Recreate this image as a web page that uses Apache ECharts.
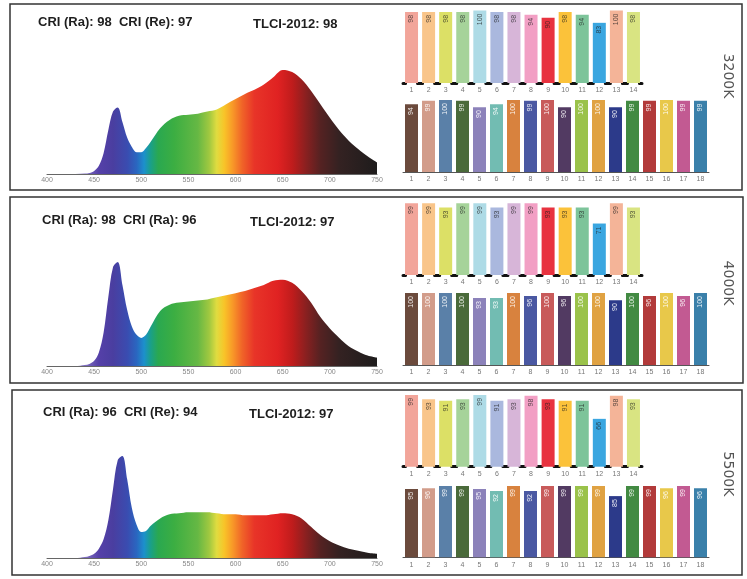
<!DOCTYPE html>
<html>
<head>
<meta charset="utf-8">
<script src="https://cdn.jsdelivr.net/npm/echarts@6/dist/echarts.min.js"></script>
<style>
html,body{margin:0;padding:0;background:#fff;}
#c{width:747px;height:579px;}
</style>
</head>
<body>
<div id="c"></div>
<script>
// ---------- DATA ----------
const wavelengths = [400,430,440,445,450,455,460,465,470,475,480,485,490,495,500,505,510,520,530,540,550,560,570,580,590,600,610,620,630,640,650,660,670,680,690,700,710,720,730,740,750];
const spec3200 = [0,0,0.5,1,3,8,20,42,60,64,50,35,26,21,21,25,31,44,52,56,57,58,60,62,67,72,77,81,86,93,100,98,91,80,67,54,42,32,24,17,11];
const spec4000 = [0,0,1,2,5,13,32,66,95,100,78,54,38,30,27,30,38,53,59,61,62,63,64,66,68,70,72,75,78,82,83,80,72,61,47,36,27,19,14,10,8];
const spec5500 = [0,0,1,2,4,9,18,36,66,94,98,76,48,32,25,26,31,38,42,43,44,44,44,43,42,42,41,41,41,42,43,42,38,30,22,16,12,9,7,5,4];
const wlTicks = [400,450,500,550,600,650,700,750];

const catsTop = ['1','2','3','4','5','6','7','8','9','10','11','12','13','14'];
const catsBottom = ['1','2','3','4','5','6','7','8','9','10','11','12','13','14','15','16','17','18'];

const top3200 = [98,98,98,98,100,98,98,94,90,98,94,83,100,98];
const bot3200 = [94,99,100,99,90,94,100,99,100,90,100,100,90,99,99,100,99,99];
const top4000 = [99,99,93,99,99,93,99,99,93,93,93,71,99,93];
const bot4000 = [100,100,100,100,93,93,100,96,100,96,100,100,90,100,96,100,96,100];
const top5500 = [99,93,91,93,99,91,93,98,93,91,91,66,98,93];
const bot5500 = [95,96,99,99,95,92,99,92,99,99,99,99,85,99,99,96,99,96];

const cctLabels = ['3200K','4000K','5500K'];
const criTexts = ['CRI (Ra): 98  CRI (Re): 97','CRI (Ra): 98  CRI (Ra): 96','CRI (Ra): 96  CRI (Re): 94'];
const tlciTexts = ['TLCI-2012: 98','TLCI-2012: 97','TLCI-2012: 97'];

const colorsTop = ['#f2a59a','#f9c58a','#dce066','#a6d39a','#aedbe6','#aab8de','#d7b5d8','#f29fc4','#e8323f','#fbc23a','#7dc49a','#3aa6e0','#f4b498','#d9e482'];
const colorsBottom = ['#6b4a3c','#d29c8a','#5a80a8','#4a6a3a','#8c82ba','#72bcb2','#d8823e','#4a58a2','#c85a5a','#523a62','#9ac24a','#e0a242','#2c3a8a','#428a42','#b23a3a','#e8c84a','#c25a92','#3a80aa'];

// ---------- LAYOUT ----------
const specTops = [70, 262, 454];
const barTopTops = [10.5, 202.5, 394.2];
const barBotTops = [100, 293, 485.3];
const panelRects = [[10,4,732,186],[10,197,733,186],[12,390,730,185]];
const textYs = [22, 220, 412];
const criXs = [38, 42, 43];
const tlciXs = [253, 250, 249];
const cctYs = [76, 283, 474];

const specStops = [[400,'#d0c8e4'],[440,'#8070c0'],[455,'#5540a8'],[470,'#4a3ea0'],[485,'#3a4cb0'],[495,'#2a66c0'],[503,'#1c90cc'],[510,'#1aa088'],[518,'#2aa850'],[535,'#3cae42'],[560,'#66b844'],[572,'#a0c840'],[580,'#e0dc40'],[588,'#f8c428'],[597,'#f89828'],[607,'#f06428'],[620,'#e83428'],[645,'#e02222'],[660,'#c01c1c'],[675,'#882020'],[690,'#552222'],[710,'#342222'],[750,'#1e1c1c']];

const specs = [spec3200, spec4000, spec5500];
const tops = [top3200, top4000, top5500];
const bots = [bot3200, bot4000, bot5500];

const grids = [], xAxes = [], yAxes = [], series = [], graphics = [];

function gradient(){
  return new echarts.graphic.LinearGradient(0,0,1,0, specStops.map(s => ({offset:(s[0]-400)/350, color:s[1]})));
}

function barAxisDash(n, width, barW){
  const cw = width / n;
  const gap = cw - barW;
  return {type:[gap + 1, barW - 1], dashOffset: (gap + 1)/2};
}

for (let p = 0; p < 3; p++) {
  // spectrum
  let gi = grids.length;
  grids.push({left:47, top:specTops[p], width:330, height:104});
  xAxes.push({gridIndex:gi, type:'value', min:400, max:750, interval:50,
    axisLine:{show:true, lineStyle:{color:'#666', width:1}},
    axisTick:{show:false}, splitLine:{show:false},
    axisLabel:{fontSize:7, color:'#888', margin:3, fontFamily:'Liberation Sans'}});
  yAxes.push({gridIndex:gi, type:'value', min:0, max:100, show:false});
  series.push({type:'line', xAxisIndex:gi, yAxisIndex:gi, smooth:0.35, showSymbol:false,
    lineStyle:{width:0}, areaStyle:{color:gradient(), opacity:1},
    data: wavelengths.map((w,i)=>[w, specs[p][i]]), silent:true});

  // top bars (14)
  gi = grids.length;
  grids.push({left:403, top:barTopTops[p], width:239, height:72.5});
  const d1 = barAxisDash(14, 239, 13);
  xAxes.push({gridIndex:gi, type:'category', data:catsTop,
    axisLine:{show:true, lineStyle:{color:'#111', width:3, type:d1.type, dashOffset:d1.dashOffset}},
    axisTick:{show:false},
    axisLabel:{fontSize:7, color:'#777', margin:4, fontFamily:'Liberation Sans'}});
  yAxes.push({gridIndex:gi, type:'value', min:0, max:100, show:false});
  series.push({type:'bar', xAxisIndex:gi, yAxisIndex:gi, barWidth:13, data:tops[p],
    itemStyle:{color:(pr)=>colorsTop[pr.dataIndex]},
    label:{show:true, position:'insideTop', rotate:90, align:'right', verticalAlign:'middle', distance:3,
      fontSize:7, color:'rgba(30,30,30,0.75)', fontFamily:'Liberation Sans'}, silent:true});

  // bottom bars (18)
  gi = grids.length;
  grids.push({left:403, top:barBotTops[p], width:306, height:72});
  xAxes.push({gridIndex:gi, type:'category', data:catsBottom,
    axisLine:{show:true, lineStyle:{color:'#555', width:1}},
    axisTick:{show:false},
    axisLabel:{fontSize:7, color:'#777', margin:4, fontFamily:'Liberation Sans'}});
  yAxes.push({gridIndex:gi, type:'value', min:0, max:100, show:false});
  series.push({type:'bar', xAxisIndex:gi, yAxisIndex:gi, barWidth:13, data:bots[p],
    itemStyle:{color:(pr)=>colorsBottom[pr.dataIndex]},
    label:{show:true, position:'insideTop', rotate:90, align:'right', verticalAlign:'middle', distance:3,
      fontSize:7, color:'rgba(255,255,255,0.9)', fontFamily:'Liberation Sans'}, silent:true});

  // panel border
  const r = panelRects[p];
  graphics.push({type:'rect', shape:{x:r[0], y:r[1], width:r[2], height:r[3]},
    style:{fill:'none', stroke:'#333', lineWidth:1.5}, silent:true});
  // texts
  graphics.push({type:'text', x:criXs[p], y:textYs[p], style:{text:criTexts[p], fill:'#1e1e1e',
    fontSize:13, fontWeight:'bold', fontFamily:'Liberation Sans', align:'left', verticalAlign:'middle'}});
  graphics.push({type:'text', x:tlciXs[p], y:textYs[p]+2, style:{text:tlciTexts[p], fill:'#1e1e1e',
    fontSize:13, fontWeight:'bold', fontFamily:'Liberation Sans', align:'left', verticalAlign:'middle'}});
  graphics.push({type:'text', x:728, y:cctYs[p], rotation:-Math.PI/2, style:{text:cctLabels[p], fill:'#555',
    fontSize:14, fontFamily:'DejaVu Sans', align:'center', verticalAlign:'middle'}});
}

const chart = echarts.init(document.getElementById('c'), null, {renderer:'canvas'});
chart.setOption({
  animation:false,
  backgroundColor:'#ffffff',
  grid:grids, xAxis:xAxes, yAxis:yAxes, series:series,
  graphic:graphics
});
</script>
</body>
</html>
